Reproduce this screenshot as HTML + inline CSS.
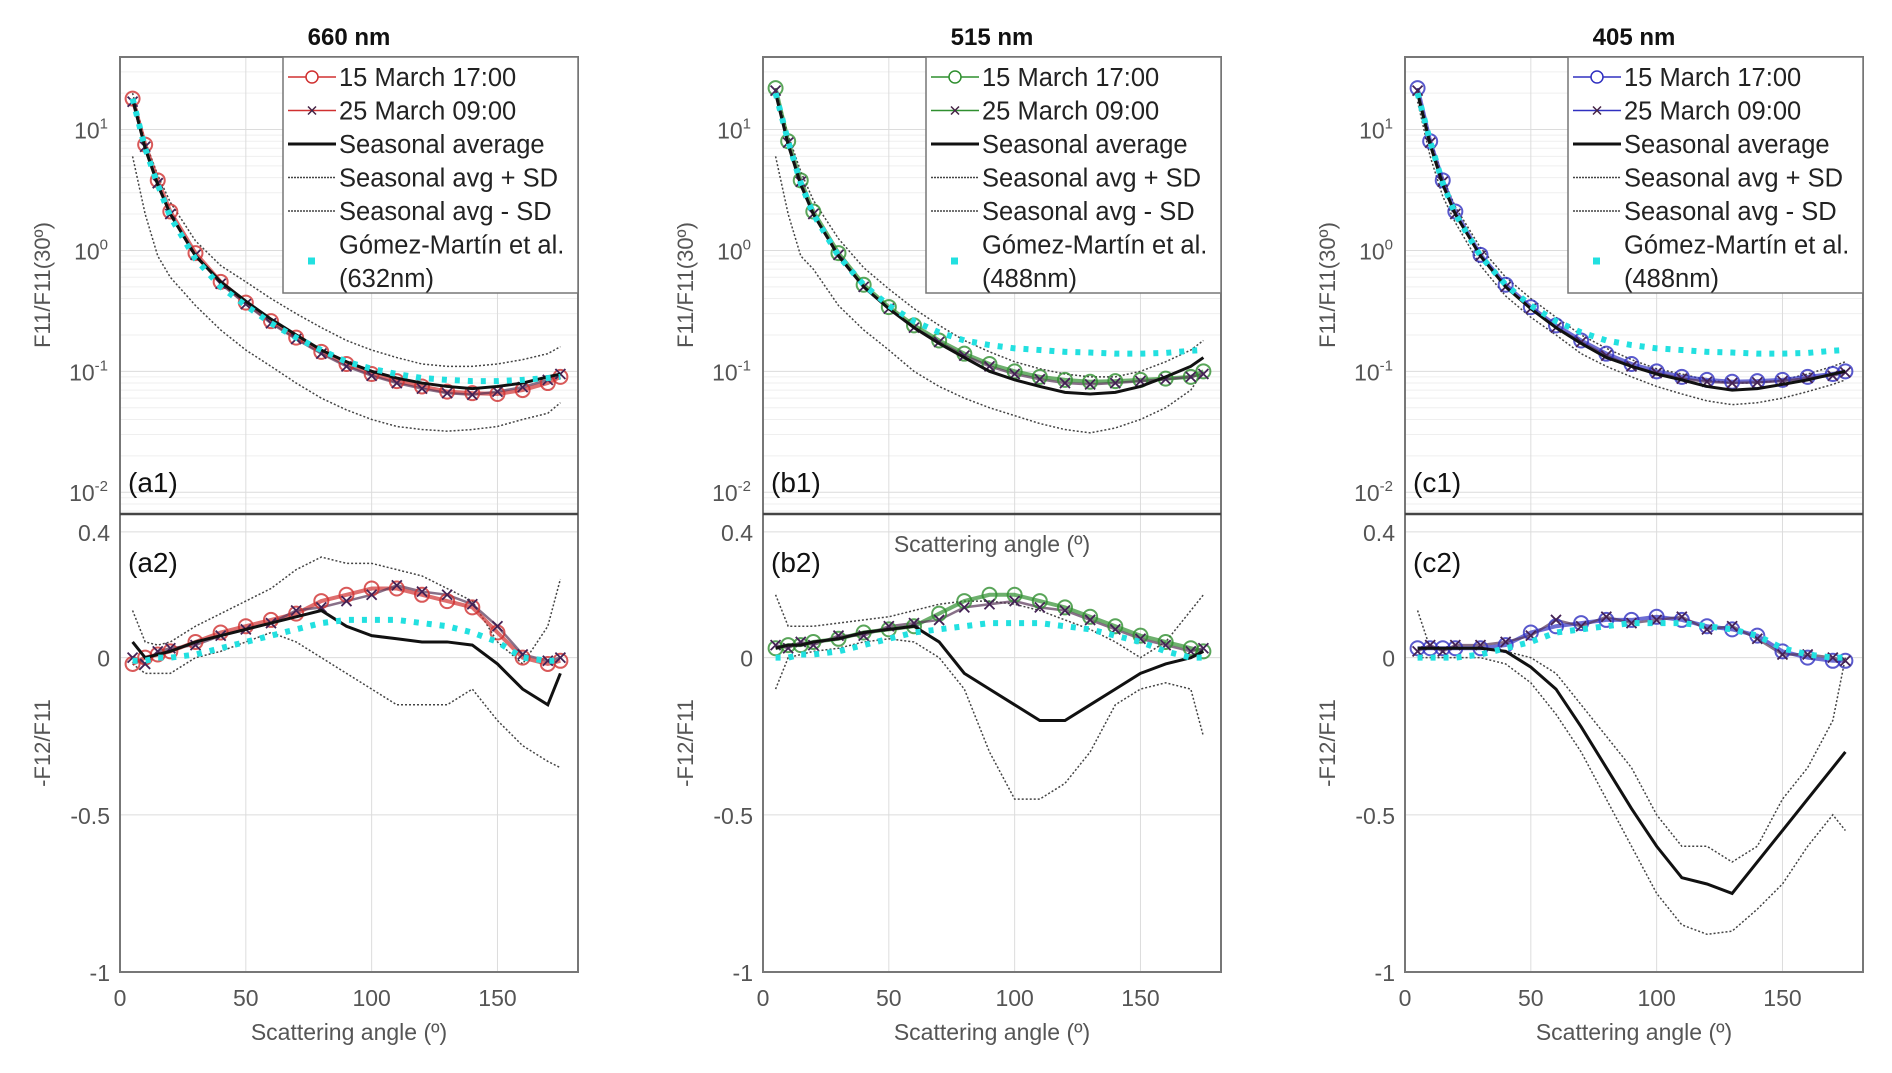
<!DOCTYPE html>
<html><head><meta charset="utf-8"><style>
body{margin:0;background:#fff;}
svg{display:block;font-family:"Liberation Sans",sans-serif;}
</style></head><body>
<svg id="fig" width="1892" height="1073" viewBox="0 0 1892 1073" xmlns="http://www.w3.org/2000/svg"></svg>
<script>
const ang = [5,10,15,20,30,40,50,60,70,80,90,100,110,120,130,140,150,160,170,175];
const titles = ["660 nm","515 nm","405 nm"];
const colors = ["#d03030","#2f8f2f","#3030c0"];
const gomezLabel = ["(632nm)","(488nm)","(488nm)"];
const panelTags = [["(a1)","(a2)"],["(b1)","(b2)"],["(c1)","(c2)"]];
// F11 upper panels
const f11Avg = [
 [18,7,3.5,2,0.9,0.55,0.38,0.27,0.2,0.15,0.12,0.1,0.088,0.08,0.075,0.072,0.075,0.08,0.09,0.095],
 [20,7.5,3.5,2,0.9,0.5,0.33,0.23,0.17,0.13,0.1,0.085,0.075,0.067,0.065,0.067,0.075,0.09,0.11,0.13],
 [20,7.5,3.5,2,0.9,0.5,0.33,0.23,0.17,0.13,0.11,0.095,0.085,0.075,0.07,0.072,0.078,0.085,0.095,0.1]];
const f11Plus = [
 [20,8,4.2,2.5,1.2,0.75,0.55,0.4,0.3,0.23,0.18,0.15,0.13,0.115,0.11,0.11,0.115,0.125,0.14,0.16],
 [22,9,4.5,2.6,1.25,0.72,0.48,0.33,0.24,0.18,0.145,0.12,0.105,0.095,0.09,0.09,0.1,0.12,0.15,0.18],
 [22,8.5,4,2.3,1.05,0.6,0.4,0.28,0.2,0.155,0.125,0.105,0.095,0.085,0.08,0.08,0.085,0.095,0.11,0.12]];
const f11Minus = [
 [6,2,0.9,0.6,0.35,0.22,0.15,0.11,0.08,0.06,0.048,0.04,0.035,0.033,0.032,0.033,0.035,0.04,0.045,0.055],
 [6,2,0.9,0.7,0.35,0.22,0.15,0.1,0.075,0.06,0.05,0.043,0.037,0.033,0.031,0.034,0.04,0.05,0.07,0.1],
 [17,6,2.8,1.7,0.75,0.42,0.28,0.2,0.14,0.11,0.09,0.075,0.065,0.057,0.053,0.055,0.06,0.068,0.078,0.085]];
const f11Meas = [
 [18,7.5,3.8,2.1,0.95,0.55,0.37,0.26,0.19,0.145,0.115,0.095,0.083,0.075,0.068,0.066,0.065,0.07,0.08,0.09],
 [22,8,3.8,2.1,0.95,0.52,0.34,0.24,0.18,0.14,0.115,0.1,0.09,0.085,0.082,0.083,0.085,0.087,0.09,0.1],
 [22,8,3.8,2.1,0.92,0.52,0.34,0.24,0.18,0.14,0.115,0.1,0.09,0.085,0.082,0.083,0.085,0.09,0.095,0.1]];
const f11Meas2 = [
 [17,7.2,3.6,2.0,0.92,0.53,0.36,0.25,0.185,0.14,0.11,0.092,0.08,0.072,0.066,0.064,0.068,0.074,0.085,0.095],
 [21,7.8,3.7,2.0,0.92,0.5,0.33,0.23,0.175,0.135,0.11,0.095,0.086,0.08,0.078,0.08,0.083,0.086,0.09,0.095],
 [21,7.8,3.7,2.0,0.9,0.5,0.33,0.23,0.175,0.135,0.11,0.097,0.087,0.082,0.08,0.081,0.083,0.088,0.092,0.098]];
const f11Gomez = [
 [18,7,3.5,1.9,0.85,0.5,0.35,0.25,0.19,0.15,0.12,0.105,0.095,0.088,0.085,0.083,0.083,0.085,0.088,0.09],
 [20,8,3.6,2,0.9,0.52,0.35,0.26,0.21,0.18,0.165,0.155,0.15,0.145,0.143,0.14,0.14,0.142,0.148,0.15],
 [20,8,3.6,2,0.9,0.52,0.35,0.26,0.21,0.18,0.165,0.155,0.15,0.145,0.143,0.14,0.14,0.142,0.148,0.15]];
// -F12/F11 lower panels
const f12Avg = [
 [0.05,0,0.01,0.02,0.05,0.07,0.09,0.11,0.13,0.15,0.1,0.07,0.06,0.05,0.05,0.04,-0.02,-0.1,-0.15,-0.05],
 [0.03,0.04,0.04,0.05,0.06,0.08,0.09,0.1,0.05,-0.05,-0.1,-0.15,-0.2,-0.2,-0.15,-0.1,-0.05,-0.02,0,0.02],
 [0.03,0.03,0.03,0.03,0.03,0.02,-0.03,-0.1,-0.22,-0.35,-0.48,-0.6,-0.7,-0.72,-0.75,-0.65,-0.55,-0.45,-0.35,-0.3]];
const f12Plus = [
 [0.15,0.05,0.04,0.05,0.1,0.14,0.18,0.22,0.28,0.32,0.3,0.3,0.28,0.26,0.22,0.18,0.05,-0.02,0.1,0.25],
 [0.2,0.1,0.1,0.1,0.11,0.12,0.13,0.15,0.17,0.18,0.18,0.17,0.15,0.12,0.09,0.05,0,0.05,0.15,0.2],
 [0.15,0.03,0.03,0.03,0.03,0.02,0,-0.05,-0.15,-0.25,-0.35,-0.5,-0.6,-0.6,-0.65,-0.6,-0.45,-0.35,-0.2,0]];
const f12Minus = [
 [-0.02,-0.05,-0.05,-0.05,0,0.02,0.05,0.08,0.05,0,-0.05,-0.1,-0.15,-0.15,-0.15,-0.1,-0.2,-0.28,-0.33,-0.35],
 [-0.1,0,0.01,0.02,0.03,0.05,0.06,0.05,0,-0.1,-0.3,-0.45,-0.45,-0.4,-0.3,-0.15,-0.1,-0.08,-0.1,-0.25],
 [0,0,0,0,0,-0.02,-0.08,-0.18,-0.3,-0.45,-0.6,-0.75,-0.85,-0.88,-0.87,-0.8,-0.72,-0.6,-0.5,-0.55]];
const f12Meas = [
 [-0.02,0,0.01,0.02,0.05,0.08,0.1,0.12,0.14,0.18,0.2,0.22,0.22,0.2,0.18,0.16,0.08,0,-0.02,-0.01],
 [0.03,0.04,0.04,0.05,0.06,0.08,0.09,0.1,0.14,0.18,0.2,0.2,0.18,0.16,0.13,0.1,0.07,0.05,0.03,0.02],
 [0.03,0.03,0.03,0.03,0.03,0.04,0.08,0.1,0.11,0.12,0.12,0.13,0.12,0.1,0.09,0.07,0.02,0,-0.01,-0.01]];
const f12Meas2 = [
 [0,-0.02,0.02,0.03,0.04,0.07,0.09,0.11,0.15,0.16,0.18,0.2,0.23,0.21,0.2,0.17,0.1,0.01,-0.01,0],
 [0.04,0.03,0.05,0.04,0.07,0.07,0.1,0.11,0.12,0.16,0.17,0.18,0.16,0.15,0.12,0.09,0.06,0.04,0.02,0.03],
 [0.02,0.04,0.02,0.04,0.04,0.05,0.07,0.12,0.1,0.13,0.11,0.12,0.13,0.09,0.1,0.06,0.01,0.01,0,-0.01]];
const f12Gomez = [
 [-0.01,-0.01,0,0,0.01,0.03,0.05,0.07,0.09,0.11,0.12,0.12,0.12,0.11,0.1,0.08,0.05,0,-0.01,-0.01],
 [0,0,0.01,0.01,0.02,0.04,0.06,0.08,0.09,0.1,0.11,0.11,0.11,0.1,0.09,0.07,0.05,0.02,0,0],
 [0,0,0,0,0.01,0.03,0.05,0.08,0.09,0.1,0.11,0.11,0.11,0.1,0.09,0.07,0.03,0.01,0,0]];
const xTicks = [0,50,100,150];
const logTicks = [1,0,-1,-2];
const linTicks = [0.4,0,-0.5,-1];
const linTickLabels = ["0.4","0","-0.5","-1"];

const NS="http://www.w3.org/2000/svg";
const svg=document.getElementById('fig');
function mk(tag,attrs,parent){const e=document.createElementNS(NS,tag);for(const k in attrs)e.setAttribute(k,attrs[k]);(parent||svg).appendChild(e);return e;}
const lefts=[120,763,1405];
const W=458, TOP=57, MID=514, BOT=972;
const XMAX=182;
const LOGTOP=1.6, LOGBOT=-2.18;
const LINTOP=0.457, LINBOT=-1;
for(let p=0;p<3;p++){
  const L=lefts[p];
  const xs=v=>L+v/XMAX*W;
  const yLog=v=>TOP+(LOGTOP-Math.log10(v))/(LOGTOP-LOGBOT)*(MID-TOP);
  const yLin=v=>MID+(LINTOP-v)/(LINTOP-LINBOT)*(BOT-MID);
  const g=mk('g',{});
  
  
  for(let d=-3;d<2;d++){for(let m=1;m<10;m++){const v=m*Math.pow(10,d);const y=yLog(v);if(y<TOP||y>MID)continue;
    const ln=mk('line',{x1:L,x2:L+W,y1:y,y2:y,stroke:m==1?'#dcdcdc':'#efefef','stroke-width':1},g);
    }}
  linTicks.forEach(t=>{const y=yLin(t);const ln=mk('line',{x1:L,x2:L+W,y1:y,y2:y,stroke:'#dcdcdc','stroke-width':1},g);
    });
  xTicks.forEach(t=>{const x=xs(t);const ln=mk('line',{x1:x,x2:x,y1:TOP,y2:BOT,stroke:'#dcdcdc','stroke-width':1},g);
    
    const tx=mk('text',{x:x,y:BOT+34,'text-anchor':'middle','font-size':23,fill:'#555'},g);tx.textContent=t;
    });
  logTicks.forEach(t=>{const y=yLog(Math.pow(10,t));const tx=mk('text',{x:L-12,y:y+9,'text-anchor':'end','font-size':23,fill:'#555'},g);
    tx.innerHTML='10<tspan dy="-10" font-size="15">'+t+'</tspan>';
    });
  linTicks.forEach((t,i)=>{const y=yLin(t);const tx=mk('text',{x:L-10,y:y+9,'text-anchor':'end','font-size':23,fill:'#555'},g);tx.textContent=linTickLabels[i];
    });
  function line(vals,yf,attrs,name){const pts=ang.map((a,i)=>xs(a)+','+yf(vals[i])).join(' ');const pl=mk('polyline',Object.assign({points:pts,fill:'none'},attrs),g);
    return pl;}
  function markers(vals,yf,name,type){ang.forEach((a,i)=>{const x=xs(a),y=yf(vals[i]);let m;
    if(type=='o'){m=mk('circle',{cx:x,cy:y,r:7,fill:'none',stroke:colors[p],'stroke-width':2,opacity:0.8},g);}
    else{m=mk('path',{d:`M${x-5},${y-5}L${x+5},${y+5}M${x-5},${y+5}L${x+5},${y-5}`,stroke:'#442255','stroke-width':1.8},g);}
    });}
  [[yLog,f11Avg,f11Plus,f11Minus,f11Meas,f11Meas2,f11Gomez,'f11'],[yLin,f12Avg,f12Plus,f12Minus,f12Meas,f12Meas2,f12Gomez,'f12']].forEach(s=>{
    const [yf,avg,pl,mn,meas,meas2,gom,nm]=s;
    line(pl[p],yf,{stroke:'#444','stroke-width':1.5,'stroke-dasharray':'2 2'},nm+'-avg-plus-sd');
    line(mn[p],yf,{stroke:'#444','stroke-width':1.5,'stroke-dasharray':'2 2'},nm+'-avg-minus-sd');
    line(meas[p],yf,{stroke:colors[p],'stroke-width':4,opacity:0.7},nm+'-15-march-line');
    line(meas2[p],yf,{stroke:'#553355','stroke-width':2.5,opacity:0.7},nm+'-25-march-line');
    markers(meas[p],yf,nm+'-15-march-marker','o');
    markers(meas2[p],yf,nm+'-25-march-marker','x');
    line(avg[p],yf,{stroke:'#111','stroke-width':3},nm+'-seasonal-average');
    line(gom[p],yf,{stroke:'#22e0e0','stroke-width':6,'stroke-dasharray':'5 8'},nm+'-gomez-martin');
  });
  const b1=mk('rect',{x:L,y:TOP,width:W,height:MID-TOP,fill:'none',stroke:'#777','stroke-width':2},g);
  const b2=mk('rect',{x:L,y:MID,width:W,height:BOT-MID,fill:'none',stroke:'#777','stroke-width':2},g);
  const dv=mk('line',{x1:L,x2:L+W,y1:MID,y2:MID,stroke:'#444','stroke-width':2.5},g);
  const t=mk('text',{x:L+W/2,y:45,'text-anchor':'middle','font-size':24,'font-weight':'bold',fill:'#111'},g);t.textContent=titles[p];
  
  const yl1=mk('text',{transform:`translate(${L-70},${285}) rotate(-90)`,'text-anchor':'middle','font-size':22,fill:'#555'},g);yl1.textContent='F11/F11(30º)';
  
  const yl2=mk('text',{transform:`translate(${L-70},${743}) rotate(-90)`,'text-anchor':'middle','font-size':22,fill:'#555'},g);yl2.textContent='-F12/F11';
  
  const xl=mk('text',{x:L+W/2,y:BOT+68,'text-anchor':'middle','font-size':23,fill:'#555'},g);xl.textContent='Scattering angle (º)';
  
  if(p==1){const xl2=mk('text',{x:L+W/2,y:MID+38,'text-anchor':'middle','font-size':23,fill:'#555'},g);xl2.textContent='Scattering angle (º)';
    }
  const tg1=mk('text',{x:L+8,y:MID-22,'font-size':28,fill:'#111'},g);tg1.textContent=panelTags[p][0];
  
  const tg2=mk('text',{x:L+8,y:MID+58,'font-size':28,fill:'#111'},g);tg2.textContent=panelTags[p][1];
  
  const LL=L+163, LT=TOP, LW=W-163, LH=236;
  const lg=mk('g',{},g);
  mk('rect',{x:LL,y:LT,width:LW,height:LH,fill:'#fff',stroke:'#777','stroke-width':1.5},lg);
  const rows=['15 March 17:00','25 March 09:00','Seasonal average','Seasonal avg + SD','Seasonal avg - SD','Gómez-Martín et al.',gomezLabel[p]];
  rows.forEach((r,i)=>{const y=LT+20+i*33.5;const tx=mk('text',{x:LL+56,y:y+9,'font-size':25.5,fill:'#222'},lg);tx.textContent=r;
    
    if(i==0){mk('line',{x1:LL+5,x2:LL+53,y1:y,y2:y,stroke:colors[p],'stroke-width':1.5},lg);mk('circle',{cx:LL+29,cy:y,r:6,fill:'#fff',stroke:colors[p],'stroke-width':1.5},lg);}
    if(i==1){mk('line',{x1:LL+5,x2:LL+53,y1:y,y2:y,stroke:colors[p],'stroke-width':1.5},lg);mk('path',{d:`M${LL+25},${y-4}L${LL+33},${y+4}M${LL+25},${y+4}L${LL+33},${y-4}`,stroke:'#442244','stroke-width':1.5},lg);}
    if(i==2)mk('line',{x1:LL+5,x2:LL+53,y1:y,y2:y,stroke:'#111','stroke-width':3},lg);
    if(i==3||i==4)mk('line',{x1:LL+5,x2:LL+53,y1:y,y2:y,stroke:'#444','stroke-width':1.5,'stroke-dasharray':'2 1'},lg);
    if(i==5)mk('rect',{x:LL+25,y:y+13,width:7,height:7,fill:'#22e0e0'},lg);
  });
}
</script>
</body></html>
